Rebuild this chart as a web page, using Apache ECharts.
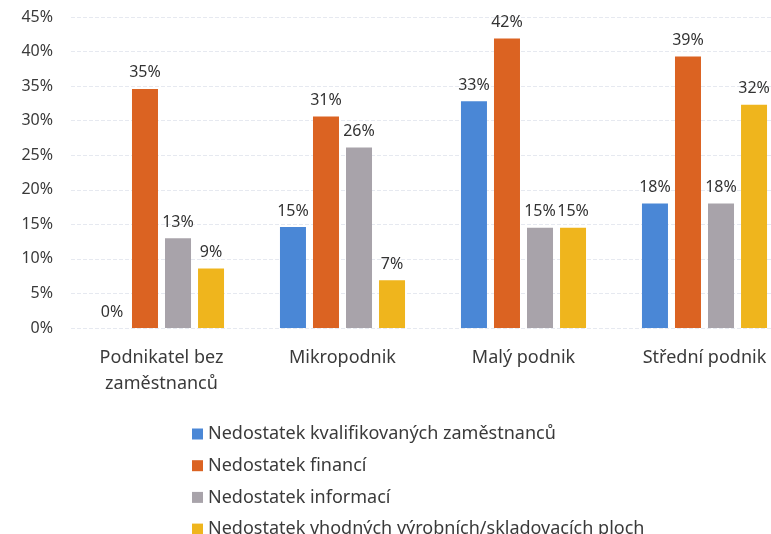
<!DOCTYPE html>
<html><head><meta charset="utf-8">
<script src="https://cdn.jsdelivr.net/npm/echarts@6/dist/echarts.min.js"></script>
<style>html,body{margin:0;padding:0;background:#fff;overflow:hidden}#c{width:800px;height:534px}</style>
</head><body><div id="c"></div>
<script>
const categories = ['Podnikatel bez\nzaměstnanců', 'Mikropodnik', 'Malý podnik', 'Střední podnik'];
const seriesNames = ['Nedostatek kvalifikovaných zaměstnanců', 'Nedostatek financí', 'Nedostatek informací', 'Nedostatek vhodných výrobních/skladovacích ploch'];
const kvalifikovani = [0, 14.6, 32.8, 18.0];
const finance = [34.6, 30.6, 41.9, 39.3];
const informace = [13.0, 26.1, 14.5, 18.0];
const plochy = [8.6, 6.9, 14.5, 32.3];
const yTicks = [0, 5, 10, 15, 20, 25, 30, 35, 40, 45];
const colors = ['#4a87d6', '#db6322', '#a8a3aa', '#efb51d'];
const allData = [kvalifikovani, finance, informace, plochy];

const chart = echarts.init(document.getElementById('c'));
const font = 'Noto Sans';
chart.setOption({
  animation: false,
  grid: { left: 71, width: 724, top: 17, bottom: 206, containLabel: false },
  legend: {
    orient: 'vertical', left: 192, top: 425, height: 300, padding: 0,
    itemWidth: 11, itemHeight: 11, itemGap: 13.7,
    icon: 'rect',
    textStyle: { fontFamily: font, fontSize: 18, color: '#3a3a3a' },
    data: seriesNames
  },
  xAxis: {
    type: 'category', data: categories,
    axisLine: { show: false }, axisTick: { show: false },
    axisLabel: { fontFamily: font, fontSize: 18, color: '#3a3a3a', margin: 17, lineHeight: 26 }
  },
  yAxis: {
    type: 'value', min: yTicks[0], max: yTicks[yTicks.length - 1], interval: 5,
    axisLine: { show: false }, axisTick: { show: false },
    splitLine: { lineStyle: { color: '#e6e9f0', type: 'dashed' } },
    axisLabel: { fontFamily: font, fontSize: 16, color: '#3a3a3a', margin: 18, formatter: v => v + '%' }
  },
  series: allData.map((d, i) => ({
    name: seriesNames[i], type: 'bar', data: d,
    barWidth: 26, barGap: '27%', barCategoryGap: '32%',
    itemStyle: { color: colors[i] },
    label: { show: true, position: 'top', distance: 8, fontFamily: font, fontSize: 16, color: '#333',
      formatter: p => Math.round(p.value) + '%' }
  }))
});
</script></body></html>
